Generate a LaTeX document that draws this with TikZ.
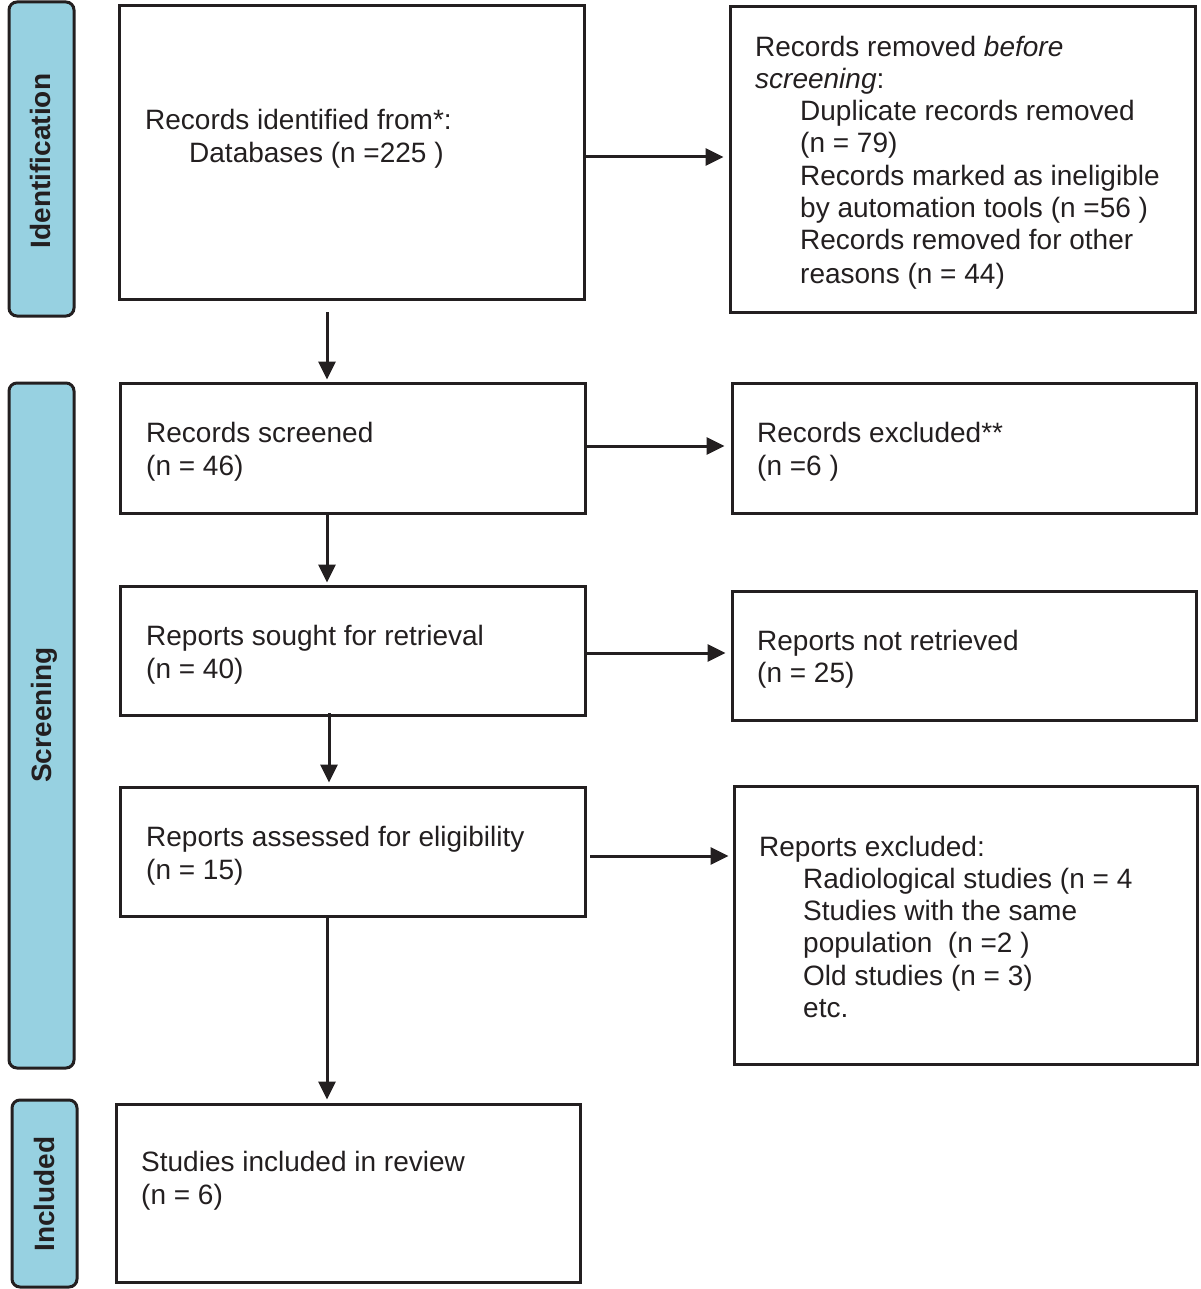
\documentclass[tikz,border=0pt]{standalone}
\usepackage{fontspec}
\setmainfont{Liberation Sans}
\usetikzlibrary{arrows.meta,calc}
\definecolor{ink}{HTML}{231F20}
\definecolor{barblue}{HTML}{97D1E1}
\tikzset{
  box/.style={draw=ink,line width=3pt,rectangle,inner sep=0pt},
  sidebar/.style={draw=ink,fill=barblue,line width=3pt,rectangle,rounded corners=8pt,inner sep=0pt},
  txt/.style={anchor=base west,inner sep=0pt,text=ink,font=\fontsize{28}{32}\selectfont},
  sidetxt/.style={anchor=base,inner sep=0pt,rotate=90,text=ink,font=\fontsize{28}{32}\selectfont\bfseries},
  arr/.style={draw=ink,line width=3pt,-{Triangle[length=18pt,width=17pt]}}
}
\begin{document}
\begin{tikzpicture}[x=1pt,y=-1pt]
\useasboundingbox (0,0) rectangle (1200,1289);
% side bars
\node[sidebar,minimum width=65,minimum height=314] (s1) at (41.5,159) {};
\node[sidebar,minimum width=65,minimum height=685] (s2) at (41.5,725.5) {};
\node[sidebar,minimum width=65,minimum height=187] (s3) at (44.5,1193.5) {};
\node[sidetxt] (s1t) at (50,161) {Identification};
\node[sidetxt] (s2t) at (51,715) {Screening};
\node[sidetxt] (s3t) at (54,1194) {Included};
% main boxes
\node[box,minimum width=465,minimum height=293] (b1) at (351.5,152.5) {};
\node[box,minimum width=465,minimum height=305] (r1) at (962.5,159.5) {};
\node[box,minimum width=465,minimum height=130] (b2) at (352.5,448) {};
\node[box,minimum width=464,minimum height=130] (r2) at (964,448) {};
\node[box,minimum width=465,minimum height=129] (b3) at (352.5,650.5) {};
\node[box,minimum width=464,minimum height=129] (r3) at (964,655.5) {};
\node[box,minimum width=465,minimum height=129] (b4) at (352.5,851.5) {};
\node[box,minimum width=463,minimum height=278] (r4) at (965.5,925) {};
\node[box,minimum width=464,minimum height=178] (b5) at (348,1193) {};
% texts
\node[txt] (t1a) at (145,130) {Records identified from*:};
\node[txt] (t1b) at (189,163) {Databases (n =225 )};
\node[txt] (u1a) at (755,57) {Records removed \textit{before}};
\node[txt] (u1b) at (755,89) {\textit{screening}:};
\node[txt] (u1c) at (800,121) {Duplicate records removed};
\node[txt] (u1d) at (800,153) {(n = 79)};
\node[txt] (u1e) at (800,186) {Records marked as ineligible};
\node[txt] (u1f) at (800,218) {by automation tools (n =56 )};
\node[txt] (u1g) at (800,250) {Records removed for other};
\node[txt] (u1h) at (800,283) {reasons (n = 44)};
\node[txt] (t2a) at (146,442) {Records screened};
\node[txt] (t2b) at (146,475) {(n = 46)};
\node[txt] (u2a) at (757,442) {Records excluded**};
\node[txt] (u2b) at (757,475) {(n =6 )};
\node[txt] (t3a) at (146,645) {Reports sought for retrieval};
\node[txt] (t3b) at (146,678) {(n = 40)};
\node[txt] (u3a) at (757,650) {Reports not retrieved};
\node[txt] (u3b) at (757,682) {(n = 25)};
\node[txt] (t4a) at (146,846) {Reports assessed for eligibility};
\node[txt] (t4b) at (146,879) {(n = 15)};
\node[txt] (u4a) at (759,856) {Reports excluded:};
\node[txt] (u4b) at (803,888) {Radiological studies (n = 4};
\node[txt] (u4c) at (803,920) {Studies with the same};
\node[txt] (u4d) at (803,952) {population\ \ (n =2 )};
\node[txt] (u4e) at (803,985) {Old studies (n = 3)};
\node[txt] (u4f) at (803,1017) {etc.};
\node[txt] (t5a) at (141,1171) {Studies included in review};
\node[txt] (t5b) at (141,1204) {(n = 6)};
% connectors
\coordinate (d1s) at (327,312);
\coordinate (d3s) at (329,713);
\coordinate (h4s) at (590,856);
\draw[arr] (b1.east |- 0,157) -- ($(r1.west |- 0,157)+(-5,0)$);
\draw[arr] (b2.east |- 0,446) -- ($(r2.west |- 0,446)+(-6,0)$);
\draw[arr] (b3.east |- 0,653) -- ($(r3.west |- 0,653)+(-5,0)$);
\draw[arr] (h4s) -- ($(r4.west |- h4s)+(-4,0)$);
\draw[arr,shorten >=2pt] (d1s) -- (b2.north -| d1s);
\draw[arr,shorten >=2pt] (b2.south -| d1s) -- (b3.north -| d1s);
\draw[arr,shorten >=3pt] (d3s) -- (b4.north -| d3s);
\draw[arr,shorten >=3pt] (b4.south -| d1s) -- (b5.north -| d1s);
\end{tikzpicture}
\end{document}
